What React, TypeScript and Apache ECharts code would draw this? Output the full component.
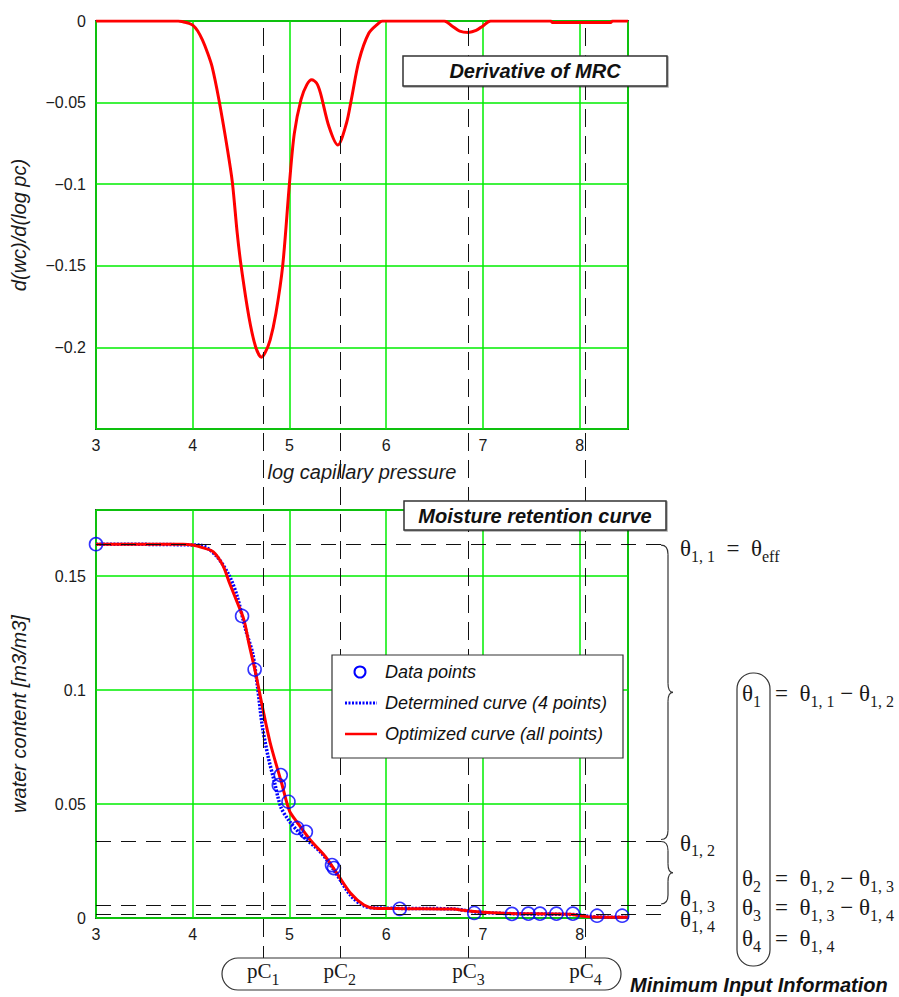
import React, { useEffect, useRef } from "react";
import * as echarts from "echarts";

// ---------- data ----------
const DERIV_X = [3.0, 3.85, 3.9, 3.95, 4.0, 4.05, 4.1, 4.15, 4.2, 4.27, 4.36, 4.41, 4.46, 4.5, 4.58, 4.65, 4.71, 4.75, 4.8, 4.86, 4.93, 5.0, 5.05, 5.12, 5.18, 5.23, 5.28, 5.32, 5.41, 5.5, 5.59, 5.64, 5.72, 5.82, 5.92, 5.96, 6.6, 6.68, 6.76, 6.85, 6.93, 7.0, 7.08, 7.7, 7.72, 8.32, 8.34, 8.5];
const DERIV_Y = [0, 0, -0.0005, -0.0012, -0.0025, -0.006, -0.0116, -0.019, -0.028, -0.048, -0.079, -0.099, -0.13, -0.15, -0.181, -0.1996, -0.206, -0.203, -0.1955, -0.179, -0.15, -0.0995, -0.069, -0.048, -0.039, -0.036, -0.038, -0.044, -0.065, -0.076, -0.0625, -0.048, -0.024, -0.0075, -0.0014, 0, 0, -0.003, -0.0062, -0.007, -0.0058, -0.003, 0, 0, -0.0009, -0.0009, 0, 0];

const OPT_X = [3.0, 3.9, 4.0, 4.1, 4.21, 4.31, 4.38, 4.45, 4.53, 4.58, 4.65, 4.72, 4.8, 4.92, 5.0, 5.08, 5.22, 5.37, 5.5, 5.63, 5.77, 5.88, 6.2, 6.69, 6.8, 6.91, 7.24, 7.9, 8.02, 8.15, 8.5];
const OPT_Y = [0.164, 0.164, 0.1636, 0.1625, 0.1607, 0.1548, 0.147, 0.1395, 0.1307, 0.1206, 0.1075, 0.0927, 0.077, 0.059, 0.047, 0.042, 0.034, 0.027, 0.019, 0.011, 0.0057, 0.0043, 0.0041, 0.0039, 0.0034, 0.0028, 0.002, 0.0016, 0.0009, 0.0004, 0.0003];

const DET_X = [3.0, 4.07, 4.24, 4.38, 4.46, 4.55, 4.62, 4.67, 4.72, 4.78, 4.84, 4.91, 4.99, 5.11, 5.33, 5.48, 5.63, 5.77, 5.9, 6.7, 6.82, 6.93, 7.3, 7.95, 8.08, 8.2, 8.5];
const DET_Y = [0.164, 0.1636, 0.159, 0.15, 0.141, 0.126, 0.116, 0.1014, 0.084, 0.0707, 0.0605, 0.0488, 0.043, 0.037, 0.0285, 0.0197, 0.01, 0.0053, 0.0044, 0.004, 0.0033, 0.0026, 0.0019, 0.0015, 0.0008, 0.0004, 0.0003];

const PTS_X = [3.0, 4.51, 4.64, 4.91, 4.89, 4.99, 5.08, 5.17, 5.44, 5.46, 6.14, 6.91, 7.3, 7.47, 7.59, 7.76, 7.93, 8.18, 8.44];
const PTS_Y = [0.164, 0.1325, 0.109, 0.0627, 0.0583, 0.051, 0.0395, 0.0378, 0.0232, 0.0219, 0.004, 0.0022, 0.0018, 0.0019, 0.0019, 0.0019, 0.0019, 0.001, 0.001];

const PC_VALUES = [4.73, 5.52, 6.85, 8.06];
const PC_LABELS = ["1", "2", "3", "4"];
const THETA_LEVELS = [0.164, 0.034, 0.0057, 0.0018];

const X_MIN = 3;
const X_MAX = 8.5;
const TOP_Y_MIN = -0.25;
const TOP_Y_MAX = 0;
const BOT_Y_MIN = 0;
const BOT_Y_MAX = 0.179;

const zip = (xs: number[], ys: number[]) => xs.map((x, i) => [x, ys[i]]);

const SANS = "'Liberation Sans', Arial, Helvetica, sans-serif";
const SERIF = "'Liberation Serif', 'Times New Roman', serif";
const GREEN = "#00ee00";
const INK = "#1a1a1a";

export default function App() {
  const ref = useRef<HTMLDivElement>(null);

  useEffect(() => {
    const chart = echarts.init(ref.current as HTMLDivElement, null, { renderer: "svg" });

    const fmt = (v: number) => (v === 0 ? "0" : String(+v.toFixed(3)).replace("-", "\u2212"));

    const xAxisBase = (i: number) => ({
      type: "value",
      gridIndex: i,
      min: X_MIN,
      max: X_MAX,
      interval: 1,
      axisLine: { show: false },
      axisTick: { show: false },
      axisLabel: { showMaxLabel: false, margin: 8, fontSize: 16, color: INK, fontFamily: SANS },
      splitLine: { show: true, lineStyle: { color: GREEN, width: 1.5 } },
      name: i === 0 ? "log capillary pressure" : "",
      nameLocation: "middle",
      nameGap: 33,
      nameTextStyle: { fontStyle: "italic", fontSize: 20, color: INK, fontFamily: SANS },
    });

    const yAxisBase = (i: number) => ({
      type: "value",
      gridIndex: i,
      min: i === 0 ? TOP_Y_MIN : BOT_Y_MIN,
      max: i === 0 ? TOP_Y_MAX : BOT_Y_MAX,
      interval: 0.05,
      axisLine: { show: false },
      axisTick: { show: false },
      axisLabel: {
        showMinLabel: i === 0 ? false : true,
        showMaxLabel: i === 0 ? true : false,
        margin: 10,
        fontSize: 16,
        color: INK,
        fontFamily: SANS,
        formatter: fmt,
      },
      splitLine: { show: true, lineStyle: { color: GREEN, width: 1.5 } },
      name: i === 0 ? "d(wc)/d(log pc)" : "water content [m3/m3]",
      nameLocation: "middle",
      nameGap: 67,
      nameTextStyle: { fontStyle: "italic", fontSize: 20, color: INK, fontFamily: SANS },
    });

    chart.setOption({
      animation: false,
      backgroundColor: "#ffffff",
      grid: [
        { left: 96, top: 21, width: 532, height: 408, show: true, borderColor: "#3a3a3a", borderWidth: 2, backgroundColor: "transparent" },
        { left: 96, top: 510, width: 532, height: 408, show: true, borderColor: "#3a3a3a", borderWidth: 2, backgroundColor: "transparent" },
      ],
      xAxis: [xAxisBase(0), xAxisBase(1)],
      yAxis: [yAxisBase(0), yAxisBase(1)],
      series: [
        {
          name: "Derivative of MRC",
          type: "line",
          xAxisIndex: 0,
          yAxisIndex: 0,
          data: zip(DERIV_X, DERIV_Y),
          symbol: "none",
          smooth: 0.3,
          lineStyle: { color: "#ff0000", width: 3 },
          z: 3,
        },
        {
          name: "Determined curve (4 points)",
          type: "line",
          xAxisIndex: 1,
          yAxisIndex: 1,
          data: zip(DET_X, DET_Y),
          symbol: "none",
          smooth: 0.3,
          lineStyle: { color: "#0000ff", width: 3.5, type: [2, 1.5] },
          z: 3,
        },
        {
          name: "Optimized curve (all points)",
          type: "line",
          xAxisIndex: 1,
          yAxisIndex: 1,
          data: zip(OPT_X, OPT_Y),
          symbol: "none",
          smooth: 0.3,
          lineStyle: { color: "#ff0000", width: 3 },
          z: 4,
        },
        {
          name: "Data points",
          type: "scatter",
          xAxisIndex: 1,
          yAxisIndex: 1,
          data: zip(PTS_X, PTS_Y),
          symbol: "circle",
          symbolSize: 13,
          itemStyle: { color: "rgba(0,0,0,0)", borderColor: "#0000ff", borderWidth: 1.6 },
          z: 5,
        },
      ],
    });

    const px = (g: number, x: number, y: number) =>
      chart.convertToPixel({ gridIndex: g } as any, [x, y]) as number[];

    const topTop = px(0, X_MIN, TOP_Y_MAX)[1];
    const botLeft = px(1, X_MIN, 0)[0];
    const botRight = px(1, X_MAX, 0)[0];
    const PC_BOX_TOP = 958;

    const els: any[] = [];

    // vertical dashed lines at pC values
    PC_VALUES.forEach((v) => {
      const x = Math.round(px(0, v, 0)[0]) + 0.5;
      els.push({
        type: "line",
        z: 50,
        shape: { x1: x, y1: topTop + 7, x2: x, y2: PC_BOX_TOP },
        style: { stroke: "#111", lineWidth: 1, lineDash: [18, 9] },
      });
    });

    // horizontal dashed lines at theta levels
    const levelY = THETA_LEVELS.map((v) => px(1, X_MIN, v)[1]);
    levelY.forEach((yy) => {
      const y = Math.round(yy) + 0.5;
      els.push({
        type: "line",
        z: 50,
        shape: { x1: botLeft, y1: y, x2: botRight + 35, y2: y },
        style: { stroke: "#111", lineWidth: 1, lineDash: [15, 10] },
      });
    });

    // braces
    const brace = (xb: number, yT: number, yB: number) => {
      const yM = (yT + yB) / 2;
      const r = Math.min(9, (yB - yT) / 5);
      const st = { stroke: "#333", lineWidth: 1.2, fill: null };
      return [
        { type: "bezierCurve", z: 60, shape: { x1: xb - 7, y1: yT, x2: xb, y2: yT + r, cpx1: xb, cpy1: yT }, style: st },
        { type: "line", z: 60, shape: { x1: xb, y1: yT + r, x2: xb, y2: yM - r }, style: st },
        { type: "bezierCurve", z: 60, shape: { x1: xb, y1: yM - r, x2: xb + 5, y2: yM, cpx1: xb, cpy1: yM }, style: st },
        { type: "bezierCurve", z: 60, shape: { x1: xb + 5, y1: yM, x2: xb, y2: yM + r, cpx1: xb, cpy1: yM }, style: st },
        { type: "line", z: 60, shape: { x1: xb, y1: yM + r, x2: xb, y2: yB - r }, style: st },
        { type: "bezierCurve", z: 60, shape: { x1: xb, y1: yB - r, x2: xb - 7, y2: yB, cpx1: xb, cpy1: yB }, style: st },
      ];
    };
    const braceX = botRight + 40;
    els.push(...brace(braceX, levelY[0] + 1, levelY[1] - 1));
    els.push(...brace(braceX, levelY[1] + 1, levelY[2] - 1));

    // rich math text helper: anchor so that main glyph center lands at cy
    const rich = {
      t: { fontFamily: SERIF, fontSize: 23, lineHeight: 22, verticalAlign: "top", fill: INK },
      p: { fontFamily: SERIF, fontSize: 21, lineHeight: 22, verticalAlign: "top", fill: INK },
      s: { fontFamily: SERIF, fontSize: 16, lineHeight: 14, padding: [11, 0, 0, 0], verticalAlign: "top", fill: INK },
    };
    const mathText = (x: number, cy: number, text: string, align = "left") => ({
      type: "text",
      z: 70,
      x,
      y: cy - 11,
      style: { text, rich, align, verticalAlign: "top", fill: INK, fontFamily: SERIF, fontSize: 23 },
    });

    const labX = braceX + 12;
    els.push(mathText(labX, levelY[0] + 4, "{t|θ}{s|1, 1}{t|  =  θ}{s|eff}"));
    els.push(mathText(labX, levelY[1] + 2, "{t|θ}{s|1, 2}"));
    els.push(mathText(labX, levelY[2] - 7, "{t|θ}{s|1, 3}"));
    els.push(mathText(labX, levelY[3] + 5, "{t|θ}{s|1, 4}"));

    // theta parameter box
    els.push({
      type: "rect",
      z: 60,
      shape: { x: 737, y: 673, width: 33, height: 293, r: 16 },
      style: { fill: null, stroke: "#333", lineWidth: 1.2 },
    });
    const rows = [
      { cy: 693, left: "{t|θ}{s|1}", right: "{t|=  θ}{s|1, 1}{t| − θ}{s|1, 2}" },
      { cy: 878, left: "{t|θ}{s|2}", right: "{t|=  θ}{s|1, 2}{t| − θ}{s|1, 3}" },
      { cy: 907, left: "{t|θ}{s|3}", right: "{t|=  θ}{s|1, 3}{t| − θ}{s|1, 4}" },
      { cy: 938, left: "{t|θ}{s|4}", right: "{t|=  θ}{s|1, 4}" },
    ];
    rows.forEach((r) => {
      els.push(mathText(742, r.cy, r.left));
      els.push(mathText(775, r.cy, r.right));
    });

    // pC box and labels
    els.push({
      type: "rect",
      z: 60,
      shape: { x: 222, y: PC_BOX_TOP, width: 399, height: 32, r: 16 },
      style: { fill: "#fff", stroke: "#333", lineWidth: 1.2 },
    });
    PC_VALUES.forEach((v, i) => {
      const x = px(0, v, 0)[0];
      els.push(mathText(x, 971, `{p|pC}{s|${PC_LABELS[i]}}`, "center"));
    });

    els.push({
      type: "text",
      z: 70,
      x: 630,
      y: 985,
      style: { text: "Minimum Input Information", fontFamily: SANS, fontSize: 20, fontWeight: "bold", fontStyle: "italic", fill: "#111", verticalAlign: "middle", align: "left" },
    });

    // title boxes
    const titleBox = (x: number, y: number, w: number, h: number, text: string) => [
      { type: "rect", z: 80, shape: { x, y, width: w, height: h }, style: { fill: "#fff", stroke: "#333", lineWidth: 1.5, shadowColor: "rgba(0,0,0,0.35)", shadowOffsetX: 1, shadowOffsetY: 1, shadowBlur: 0 } },
      { type: "text", z: 81, x: x + w / 2, y: y + h / 2, style: { text, fontFamily: SANS, fontSize: 20, fontWeight: "bold", fontStyle: "italic", fill: "#111", align: "center", verticalAlign: "middle" } },
    ];
    els.push(...titleBox(403, 56, 264, 30, "Derivative of MRC"));
    els.push(...titleBox(404, 501, 262, 29, "Moisture retention curve"));

    // legend
    const legX = 332, legY = 655;
    els.push({ type: "rect", z: 80, shape: { x: legX, y: legY, width: 291, height: 103 }, style: { fill: "#fff", stroke: "#333", lineWidth: 1.2 } });
    els.push({ type: "circle", z: 81, shape: { cx: 360, cy: 672, r: 5.5 }, style: { fill: null, stroke: "#0000ff", lineWidth: 2 } });
    els.push({ type: "line", z: 81, shape: { x1: 345, y1: 703, x2: 377, y2: 703 }, style: { stroke: "#0000ff", lineWidth: 3, lineDash: [2, 1.5] } });
    els.push({ type: "line", z: 81, shape: { x1: 345, y1: 734, x2: 377, y2: 734 }, style: { stroke: "#ff0000", lineWidth: 2.5 } });
    ["Data points", "Determined curve (4 points)", "Optimized curve (all points)"].forEach((t, i) => {
      els.push({
        type: "text",
        z: 81,
        x: 385,
        y: 672 + i * 31,
        style: { text: t, fontFamily: SANS, fontSize: 18, fontStyle: "italic", fill: "#111", align: "left", verticalAlign: "middle" },
      });
    });

    chart.setOption({ graphic: { elements: els } });

    return () => chart.dispose();
  }, []);

  return (
    <div
      ref={ref}
      style={{ position: "fixed", left: 0, top: 0, width: 899, height: 997, background: "#fff" }}
    />
  );
}
